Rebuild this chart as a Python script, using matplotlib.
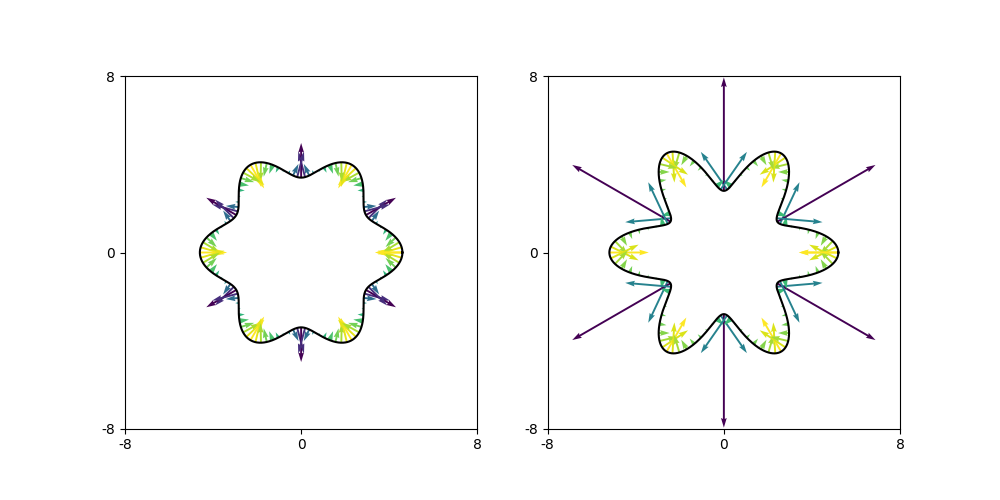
#!/usr/bin/env python3
"""Curvature vectors along two six-lobed closed curves."""

import matplotlib

matplotlib.use("Agg")
import matplotlib.pyplot as plt  # noqa: E402
import numpy as np  # noqa: E402

# shape parameters: r(theta) = base + amp * cos(lobes * theta)
base_radius = 4.0
amplitudes = [0.6, 1.2]
n_lobes = 6
n_arrows = 121
n_curve = 2000

limits = [-8, 8]
tick_pos = [-8, 0, 8]
tick_labels = ["-8", "0", "8"]


def polar_curve(theta, amp):
    r = base_radius + amp * np.cos(n_lobes * theta)
    dr = -amp * n_lobes * np.sin(n_lobes * theta)
    ddr = -amp * n_lobes**2 * np.cos(n_lobes * theta)
    c, s = np.cos(theta), np.sin(theta)
    x, y = r * c, r * s
    dx = dr * c - r * s
    dy = dr * s + r * c
    ddx = ddr * c - 2 * dr * s - r * c
    ddy = ddr * s + 2 * dr * c - r * s
    return x, y, dx, dy, ddx, ddy


def curvature_vectors(theta, amp):
    x, y, dx, dy, ddx, ddy = polar_curve(theta, amp)
    speed = np.hypot(dx, dy)
    k = (dx * ddy - dy * ddx) / speed**3
    nx, ny = -dy / speed, dx / speed
    return x, y, k * nx, k * ny, k


def draw_panel(ax, amp):
    t_arrow = np.linspace(0, 2 * np.pi, n_arrows)
    x, y, u, v, k = curvature_vectors(t_arrow, amp)
    ax.quiver(x, y, u, v, k, cmap="viridis", angles="xy",
              scale_units="xy", scale=1, zorder=1)
    t_line = np.linspace(0, 2 * np.pi, n_curve)
    cx, cy, *_ = polar_curve(t_line, amp)
    ax.plot(cx, cy, color="black", lw=1.5, zorder=2)
    ax.set_xlim(limits)
    ax.set_ylim(limits)
    ax.set_aspect("equal")
    ax.set_xticks(tick_pos)
    ax.set_xticklabels(tick_labels)
    ax.set_yticks(tick_pos)
    ax.set_yticklabels(tick_labels)


def main():
    fig, axes = plt.subplots(1, 2, figsize=(10, 5))
    for ax, amp in zip(axes, amplitudes):
        draw_panel(ax, amp)
    fig.savefig("out.png", dpi=100)
    plt.close(fig)


if __name__ == "__main__":
    main()
